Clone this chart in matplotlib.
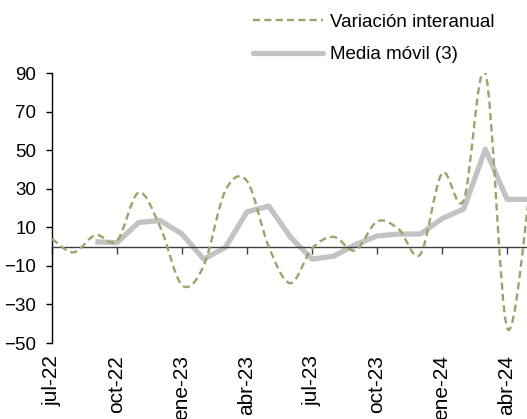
"""Variación interanual y media móvil (3), jul-22 a may-24."""

import matplotlib

matplotlib.use("Agg")
import matplotlib.pyplot as plt
import numpy as np
from matplotlib.lines import Line2D
from matplotlib.patches import PathPatch
from matplotlib.path import Path

months = ["jul-22", "ago-22", "sep-22", "oct-22", "nov-22", "dic-22",
          "ene-23", "feb-23", "mar-23", "abr-23", "may-23", "jun-23",
          "jul-23", "ago-23", "sep-23", "oct-23", "nov-23", "dic-23",
          "ene-24", "feb-24", "mar-24", "abr-24", "may-24"]
variacion = [4, -3, 6, 3, 28, 10, -20, -10, 29, 34, 0, -19,
             -1, 5, -2, 13, 9, -4, 38, 24, 90, -42, 24]
media_movil = [np.nan, np.nan, 2.5, 2, 12.5, 13.5, 6.5, -6.5, -0.5, 18, 21, 5,
               -6.5, -5, 1, 5.5, 6.5, 6.5, 14.5, 19.5, 50.5, 24.5, 24.5]
tick_labels = months[::3]

GREEN = "#98a56b"
GRAY = "#c3c3c3"
DASH = (0, (3, 1.8))
FS = 13.5
FS_X = 15

plt.rcParams["font.family"] = ["Liberation Sans", "DejaVu Sans"]
plt.rcParams["font.size"] = FS


def smooth_path(x, y):
    # Excel-style smoothed line: Catmull-Rom segments as cubic Bezier curves
    pts = np.column_stack([x, y]).astype(float)
    n = len(pts)
    verts = [pts[0]]
    codes = [Path.MOVETO]
    for i in range(n - 1):
        p0 = pts[max(i - 1, 0)]
        p1 = pts[i]
        p2 = pts[i + 1]
        p3 = pts[min(i + 2, n - 1)]
        verts += [p1 + (p2 - p0) / 6, p2 - (p3 - p1) / 6, p2]
        codes += [Path.CURVE4] * 3
    return Path(verts, codes)


x = np.arange(len(months))

fig = plt.figure(figsize=(5.27, 4.19), dpi=100)
ax = fig.add_axes([52 / 527, 1 - 343 / 419, 476.7 / 527, 270 / 419])

ax.plot(x, media_movil, color=GRAY, lw=3.8, solid_joinstyle="round",
        solid_capstyle="butt", zorder=2)
ax.add_patch(PathPatch(smooth_path(x, variacion), fill=False, edgecolor=GREEN,
                       lw=1.7, linestyle=DASH, zorder=3))

ax.set_xlim(0, len(months) - 1)
ax.set_ylim(-50, 90)
ax.set_yticks(np.arange(-50, 91, 20))
ax.tick_params(axis="y", direction="out", length=4, width=1, pad=7.5, labelsize=FS)

# category axis crosses at zero, labels sit at the bottom
ax.spines["bottom"].set_position(("data", 0))
ax.spines["bottom"].set_color("#404040")
ax.spines["bottom"].set_linewidth(1.0)
ax.spines["top"].set_visible(False)
ax.spines["right"].set_visible(False)
ax.spines["left"].set_linewidth(1.0)
ax.set_xticks(x[::3])
ax.set_xticklabels([])
ax.tick_params(axis="x", direction="out", length=5, width=1, color="#404040")

sec = ax.secondary_xaxis("bottom")
sec.spines["bottom"].set_visible(False)
sec.set_xticks(x[::3])
sec.set_xticklabels(tick_labels, rotation=90, fontsize=FS_X)
sec.tick_params(length=0, pad=8.5)

handles = [Line2D([], [], color=GREEN, lw=1.7, linestyle=DASH),
           Line2D([], [], color=GRAY, lw=3.8, solid_capstyle="round")]
fig.legend(handles, ["Variación interanual", "Media móvil (3)"],
           loc="upper left", bbox_to_anchor=(253 / 527, 0.968), frameon=False,
           borderpad=0, borderaxespad=0, handlelength=3.73, handletextpad=0.37,
           labelspacing=0.84, fontsize=FS)

fig.savefig("out.png", dpi=100)
plt.close(fig)
